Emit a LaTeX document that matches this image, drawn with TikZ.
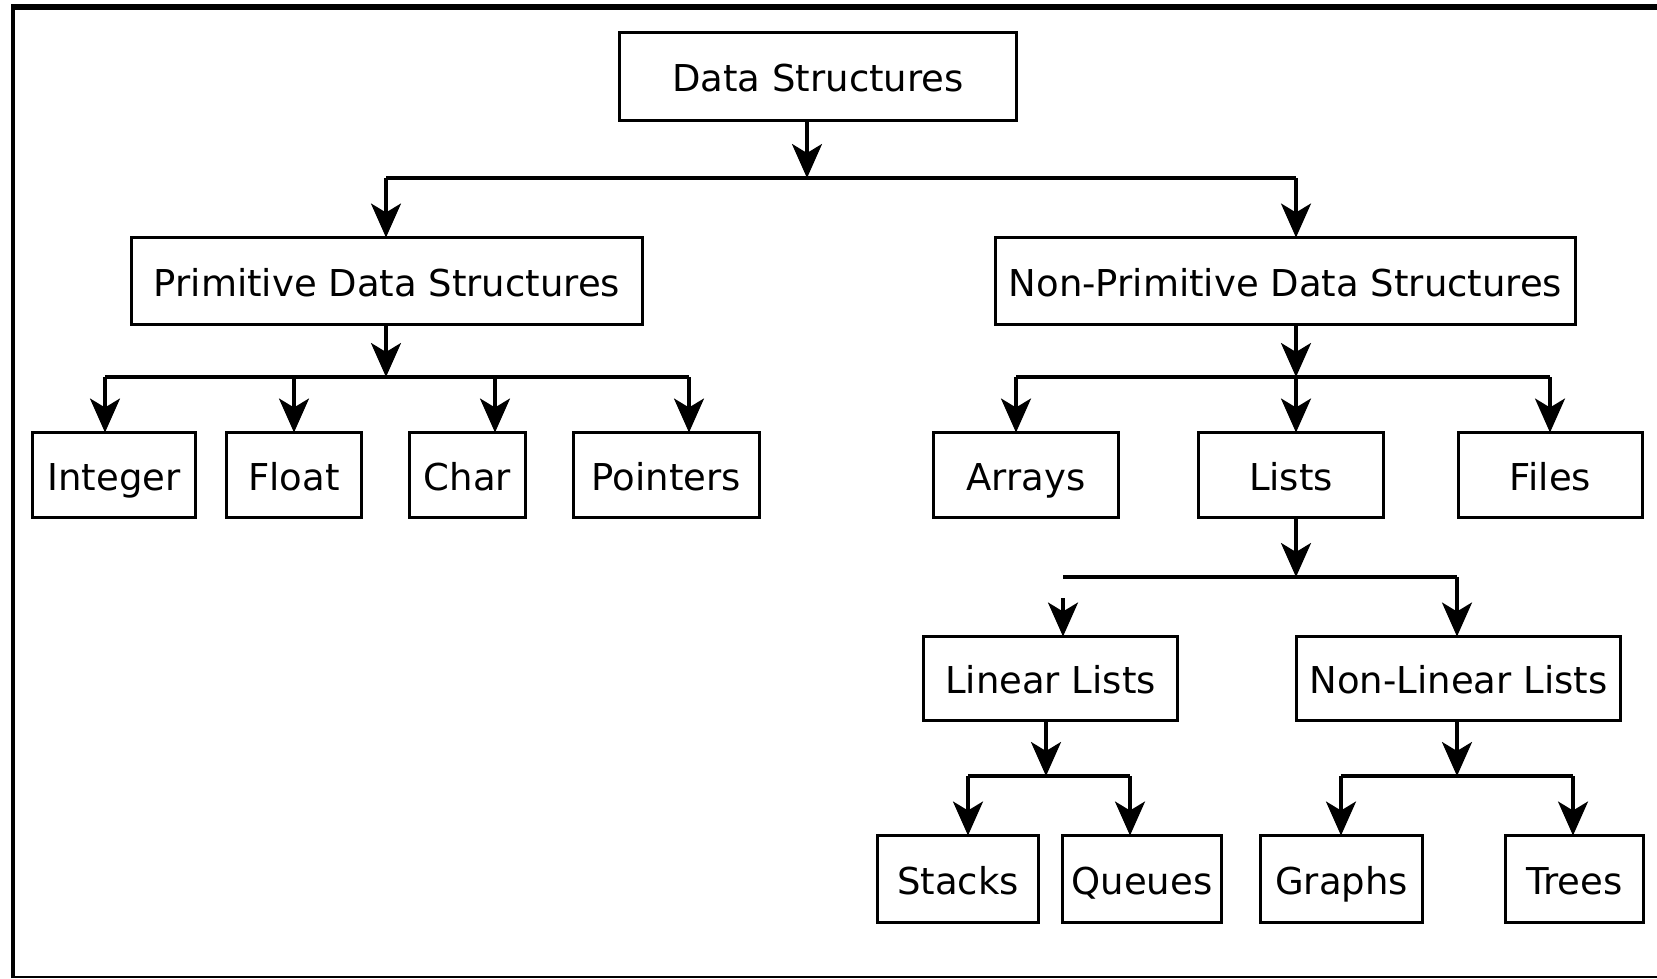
\documentclass[tikz,border=0pt]{standalone}
\usepackage{fontspec}
\setmainfont{DejaVu Sans}
\usetikzlibrary{arrows.meta}

\tikzset{
  box/.style={draw, line width=3.2pt, inner sep=0pt, outer sep=0pt,
    font=\fontsize{37}{40}\selectfont, text height=31pt, text depth=1pt},
  link/.style={line width=3.2pt, -{Stealth[length=34pt, width=30pt, inset=9pt]}},
  wire/.style={line width=3.2pt},
  frame/.style={line width=#1},
}

\begin{document}
\begin{tikzpicture}[x=1pt, y=-1pt]
  \useasboundingbox (0,0) rectangle (1657,978);

  % outer frame
  \draw[frame=4pt] (13,978) -- (13,5);
  \draw[frame=6pt] (11,7) -- (1657,7);
  \draw[frame=1.5pt] (11,977) -- (1657,977);

  % boxes
  \node[box, minimum width=397pt, minimum height=88pt] (ds)   at (818,76.5) {Data Structures};
  \node[box, minimum width=511pt, minimum height=87pt] (prim) at (387,281) {Primitive Data Structures};
  \node[box, minimum width=580pt, minimum height=87pt] (nprim) at (1285.5,281) {Non-Primitive Data Structures};

  \node[box, minimum width=163pt, minimum height=85pt] (int) at (114,475) {Integer};
  \node[box, minimum width=135pt, minimum height=85pt] (flt) at (294,475) {Float};
  \node[box, minimum width=116pt, minimum height=85pt] (chr) at (467.5,475) {Char};
  \node[box, minimum width=186pt, minimum height=85pt] (ptr) at (666.5,475) {Pointers};

  \node[box, minimum width=185pt, minimum height=85pt] (arr) at (1026,475) {Arrays};
  \node[box, minimum width=185pt, minimum height=85pt] (lst) at (1291,475) {Lists};
  \node[box, minimum width=184pt, minimum height=85pt] (fil) at (1550.5,475) {Files};

  \node[box, minimum width=254pt, minimum height=84pt] (lin)  at (1050.5,678.5) {Linear Lists};
  \node[box, minimum width=324pt, minimum height=84pt] (nlin) at (1458.5,678.5) {Non-Linear Lists};

  \node[box, minimum width=161pt, minimum height=87pt] (stk) at (958,879) {Stacks};
  \node[box, minimum width=159pt, minimum height=87pt] (que) at (1142,879) {Queues};
  \node[box, minimum width=162pt, minimum height=87pt] (gra) at (1341.5,879) {Graphs};
  \node[box, minimum width=138pt, minimum height=87pt] (tre) at (1574.5,879) {Trees};

  % Data Structures -> two families
  \coordinate (j0) at (807,178);
  \coordinate (a0l) at (386,178);
  \coordinate (a0r) at (1296,178);
  \draw[link] (j0 |- ds.south) -- (j0);
  \draw[wire] (a0l) -- (a0r);
  \draw[link] (a0l) -- (a0l |- prim.north);
  \draw[link] (a0r) -- (a0r |- nprim.north);

  % Primitive -> Integer, Float, Char, Pointers
  \coordinate (j1) at (386,377);
  \coordinate (a1a) at (105,377);
  \coordinate (a1b) at (294,377);
  \coordinate (a1c) at (495,377);
  \coordinate (a1d) at (689,377);
  \draw[link] (j1 |- prim.south) -- (j1);
  \draw[wire] (a1a) -- (a1d);
  \draw[link] (a1a) -- (a1a |- int.north);
  \draw[link] (a1b) -- (a1b |- flt.north);
  \draw[link] (a1c) -- (a1c |- chr.north);
  \draw[link] (a1d) -- (a1d |- ptr.north);

  % Non-Primitive -> Arrays, Lists, Files
  \coordinate (j2) at (1296,377);
  \coordinate (a2a) at (1016,377);
  \coordinate (a2c) at (1550,377);
  \draw[link] (j2 |- nprim.south) -- (j2);
  \draw[wire] (a2a) -- (a2c);
  \draw[link] (a2a) -- (a2a |- arr.north);
  \draw[link] (j2) -- (j2 |- lst.north);
  \draw[link] (a2c) -- (a2c |- fil.north);

  % Lists -> Linear / Non-Linear (left arrowhead stands free of the bar)
  \coordinate (j3) at (1296,577);
  \coordinate (a3a) at (1063,577);
  \coordinate (a3s) at (1063,598);
  \coordinate (a3b) at (1457,577);
  \draw[link] (j3 |- lst.south) -- (j3);
  \draw[wire] (a3a) -- (a3b);
  \draw[link] (a3s) -- (a3s |- lin.north);
  \draw[link] (a3b) -- (a3b |- nlin.north);

  % Linear Lists -> Stacks, Queues
  \coordinate (j4) at (1046,776);
  \coordinate (a4a) at (968,776);
  \coordinate (a4b) at (1130,776);
  \draw[link] (j4 |- lin.south) -- (j4);
  \draw[wire] (a4a) -- (a4b);
  \draw[link] (a4a) -- (a4a |- stk.north);
  \draw[link] (a4b) -- (a4b |- que.north);

  % Non-Linear Lists -> Graphs, Trees
  \coordinate (j5) at (1457,776);
  \coordinate (a5a) at (1341,776);
  \coordinate (a5b) at (1573,776);
  \draw[link] (j5 |- nlin.south) -- (j5);
  \draw[wire] (a5a) -- (a5b);
  \draw[link] (a5a) -- (a5a |- gra.north);
  \draw[link] (a5b) -- (a5b |- tre.north);
\end{tikzpicture}
\end{document}
